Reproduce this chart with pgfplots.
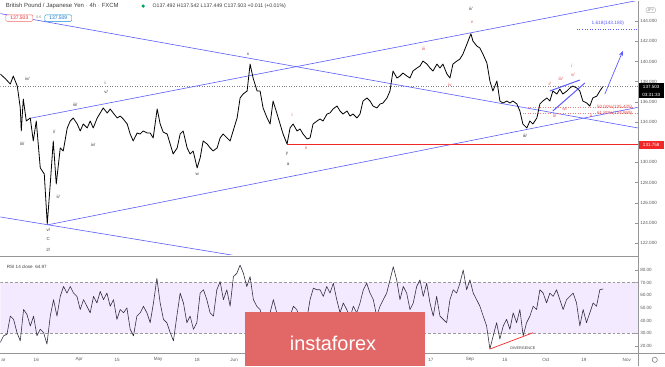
\documentclass[border=0pt]{standalone}
\usepackage{fontspec}
\setmainfont{Liberation Sans}
\usepackage{pgfplots}
\pgfplotsset{compat=1.18}
\usetikzlibrary{arrows.meta}
\definecolor{tvblue}{RGB}{90,90,255}
\definecolor{tvred}{RGB}{240,40,40}
\definecolor{lblred}{RGB}{225,75,75}
\definecolor{lbldark}{RGB}{60,60,60}
\definecolor{rsiband}{RGB}{244,234,255}
\definecolor{rsiline}{RGB}{55,45,65}
\definecolor{logored}{RGB}{226,104,104}
\definecolor{axgray}{RGB}{90,90,90}
\definecolor{sepgray}{RGB}{150,150,150}
\pgfplotstableread{
x p
0 138.75
5 138.30
10 137.76
13 138.55
17 137.56
20 135.39
21 133.11
23 136.28
26 134.10
30 134.40
33 132.12
36 134.10
40 129.45
44 128.85
47 123.90
50 127.86
53 132.12
56 127.86
60 131.43
63 131.13
67 133.41
70 134.10
73 134.40
77 133.80
80 133.11
83 133.80
87 133.41
90 134.10
93 133.41
97 134.40
100 134.89
103 135.39
107 134.89
110 135.29
113 134.89
117 134.40
120 134.59
123 134.30
127 133.80
130 132.81
133 132.12
137 132.91
140 132.81
143 133.11
147 132.91
150 132.91
153 132.42
157 135.29
160 133.80
163 133.00
167 132.81
170 131.82
173 130.83
177 131.43
180 132.81
183 133.11
187 131.43
190 130.83
193 131.13
197 129.45
200 130.44
203 132.12
207 131.82
210 131.43
213 131.13
217 131.43
220 132.42
223 132.81
227 132.42
230 132.12
233 133.11
237 134.40
240 136.38
243 136.77
247 137.07
250 139.74
253 138.36
257 137.07
260 137.07
263 135.39
267 134.40
270 133.80
273 136.08
277 134.79
280 133.80
283 132.81
287 131.82
290 133.41
293 133.80
297 133.11
300 133.31
303 132.81
307 132.32
310 132.42
313 133.80
317 134.10
320 134.30
323 134.10
327 134.79
330 134.90
333 135.29
337 135.58
340 135.09
343 134.79
347 135.09
350 134.59
353 134.79
357 134.40
360 134.79
363 136.08
367 136.38
370 136.08
373 135.58
377 135.39
380 135.78
383 135.88
387 136.38
390 137.07
393 139.05
397 138.36
400 138.55
403 138.85
407 138.55
410 138.36
413 139.05
417 139.35
420 139.54
423 140.04
427 139.74
430 139.35
433 139.05
437 139.74
440 139.35
443 139.74
447 138.75
450 138.36
453 139.74
457 140.04
460 140.24
463 140.73
467 141.72
471 142.75
473 142.02
477 141.52
480 141.33
483 140.73
487 139.84
490 138.06
493 137.07
497 138.06
500 136.08
503 135.88
507 136.08
510 135.88
513 136.08
517 135.78
520 135.09
523 133.80
527 133.41
530 134.10
533 133.80
537 134.40
540 135.78
543 136.08
547 136.38
550 136.08
553 137.07
557 136.77
560 137.27
563 136.77
567 137.07
570 137.37
573 137.56
577 137.37
580 137.07
583 136.08
587 135.88
590 135.58
593 136.38
597 136.57
600 137.07
603 137.50
}\pricedata
\pgfplotstableread{
x r
0 22.7
3.3 27.9
6.7 29.2
10 43.5
13.3 40.9
16.7 30.5
20 24.0
23.3 48.7
26.7 44.8
30 35.7
33.3 43.5
36.7 27.9
40 33.1
43.3 30.5
46.7 21.4
50 43.5
53.3 56.5
56.7 43.5
60 59.1
63.3 66.9
66.7 61.7
70 66.9
73.3 61.7
76.7 59.1
80 48.7
83.3 56.5
86.7 51.3
90 46.1
93.3 59.1
96.7 53.9
100 63.0
103.3 56.5
106.7 61.7
110 51.3
113.3 56.5
116.7 40.9
120 48.7
123.3 46.1
126.7 50.0
130 33.1
133.3 27.9
136.7 43.5
140 46.1
143.3 51.3
146.7 46.1
150 38.3
153.3 53.9
156.7 73.4
160 53.9
163.3 40.9
166.7 38.3
170 30.5
173.3 24.0
176.7 43.5
180 61.7
183.3 53.9
186.7 38.3
190 43.5
193.3 33.1
196.7 38.3
200 61.7
203.3 64.3
206.7 56.5
210 46.1
213.3 43.5
216.7 64.3
220 70.8
223.3 56.5
226.7 64.3
230 51.3
233.3 74.7
236.7 77.3
240 83.8
243.3 77.3
246.7 66.9
250 74.7
253.3 56.5
256.7 51.3
260 48.7
263.3 38.3
266.7 27.9
270 46.1
273.3 56.5
276.7 46.1
280 38.3
283.3 29.2
286.7 30.5
290 43.5
293.3 51.3
296.7 48.7
300 40.9
303.3 33.1
306.7 40.9
310 56.5
313.3 65.6
316.7 64.3
320 64.3
323.3 59.1
326.7 66.9
330 61.7
333.3 69.5
336.7 56.5
340 46.1
343.3 53.9
346.7 48.7
350 42.2
353.3 51.3
356.7 46.1
360 53.9
363.3 64.3
366.7 69.5
370 61.7
373.3 56.5
376.7 43.5
380 51.3
383.3 56.5
386.7 61.7
390 72.1
393.3 82.5
396.7 72.1
400 56.5
403.3 66.9
406.7 61.7
410 48.7
413.3 53.9
416.7 66.9
420 72.1
423.3 59.1
426.7 69.5
430 53.9
433.3 43.5
436.7 59.1
440 43.5
443.3 40.9
446.7 38.3
450 56.5
453.3 64.3
456.7 61.7
460 69.5
463.3 79.9
466.7 64.3
470 72.1
473.3 61.7
476.7 56.5
480 51.3
483.3 43.5
486.7 35.7
490 17.5
493.3 27.9
496.7 38.3
500 25.3
503.3 35.7
506.7 40.9
510 33.1
513.3 46.1
516.7 38.3
520 48.7
523.3 27.9
526.7 38.3
530 43.5
533.3 51.3
536.7 48.7
540 64.3
543.3 61.7
546.7 53.9
550 61.7
553.3 59.1
556.7 64.3
560 56.5
563.3 48.7
566.7 56.5
570 59.1
573.3 61.7
576.7 53.9
580 35.7
583.3 48.7
586.7 38.3
590 46.1
593.3 53.9
596.7 51.3
600 64.3
603.3 64.97
}\rsidata
\newcommand{\tinyf}{\fontsize{4.6}{5}\selectfont}
\newcommand{\wl}{\fontsize{4.5}{5}\selectfont}
\begin{document}
\begin{tikzpicture}
\begin{scope}[x=1bp,y=1bp]
\useasboundingbox (0,0) rectangle (665,365);
\end{scope}
% ---------------- price panel
\begin{axis}[at={(0bp,111bp)}, anchor=south west, width=638bp, height=254bp,
  scale only axis, xmin=0, xmax=638, ymin=120.83, ymax=145.98,
  axis line style={draw=none}, xtick=\empty,
  ytick={122,124,126,128,130,134,136,138,140,142,144}, yticklabel pos=right,
  /pgf/number format/assume math mode=true,
  yticklabel={\pgfmathprintnumber[fixed,fixed zerofill,precision=3]{\tick}},
  yticklabel style={font=\tinyf, text=axgray, xshift=-1bp},
  major tick length=2.5bp, tick style={sepgray, line width=0.4pt},
  ytick pos=right]
\addplot[gray, dotted, line width=0.5pt] coordinates {(0,137.503) (638,137.503)};
\addplot[tvblue, line width=0.6pt] coordinates {(30,134.37) (638,146.05)};
\addplot[tvblue, line width=0.6pt] coordinates {(47,123.80) (638,135.45)};
\addplot[tvblue, line width=0.6pt] coordinates {(0,144.74) (638,133.41)};
\addplot[tvblue, line width=0.6pt] coordinates {(0,124.59) (260,120.35)};
\addplot[tvred, line width=0.6pt] coordinates {(287,131.758) (638,131.758)};
\addplot[lblred!70, dotted, line width=0.5pt] coordinates {(523,135.475) (638,135.475)};
\addplot[lblred!70, dotted, line width=0.5pt] coordinates {(523,134.869) (638,134.869)};
\addplot[tvblue, dotted, line width=0.6pt] coordinates {(577,143.18) (638,143.18)};
\addplot[black, line width=0.8pt, line join=round] table[x=x,y=p] {\pricedata};
\addplot[tvblue, line width=1pt] coordinates {(550,137.07) (580,138.16)};
\addplot[tvblue, line width=1pt] coordinates {(553,135.09) (585,137.86)};
\addplot[tvblue, line width=0.7pt, -{Stealth[length=5bp,width=4bp]}] coordinates {(605,136.77) (623,141.03)};
\end{axis}
% ---------------- RSI panel
\begin{axis}[at={(0bp,13bp)}, anchor=south west, width=638bp, height=95bp,
  scale only axis, xmin=0, xmax=638, ymin=14.5, ymax=89.5,
  axis line style={draw=none}, xtick=\empty,
  ytick={20,30,...,80}, yticklabel pos=right, ytick pos=right,
  /pgf/number format/assume math mode=true,
  yticklabel={\pgfmathprintnumber[fixed,fixed zerofill,precision=2]{\tick}},
  yticklabel style={font=\tinyf, text=axgray, xshift=-1bp},
  major tick length=2.5bp, tick style={sepgray, line width=0.4pt}]
\addplot[fill=rsiband, draw=none] coordinates {(0,30) (638,30) (638,70) (0,70) (0,30)};
\addplot[gray!80, densely dashed, line width=0.4pt] coordinates {(0,70) (638,70)};
\addplot[gray!80, densely dashed, line width=0.4pt] coordinates {(0,30) (638,30)};
\addplot[rsiline, line width=0.6pt, line join=round] table[x=x,y=r] {\rsidata};
\addplot[tvred, line width=0.7pt] coordinates {(490,17.5) (533,30.3)};
\node[font=\fontsize{3.8}{4}\selectfont, text=lbldark] at (axis cs:523,18.5) {DIVERGENCE};
\end{axis}
\begin{scope}[x=1bp,y=1bp]
% ---------------- date labels
\foreach \d/\x in {ar/3,16/36,Apr/79,15/117,May/158,18/197,Jun/234,15/270,Jul/313,16/352,Aug/395,17/431,Sep/470,15/505,Oct/546,19/584,Nov/627}
  \node[font=\tinyf, text=axgray, inner sep=0pt] at (\x,6) {\d};
% ---------------- frame lines
\draw[sepgray, line width=0.6pt] (0,109.5) -- (638,109.5);
\draw[sepgray, line width=0.5pt] (638,0) -- (638,365);
\draw[sepgray, line width=0.5pt] (0,13) -- (665,13);
% ---------------- header
\node[anchor=west, font=\fontsize{6}{7}\selectfont, text=lbldark] at (2,360) {British Pound / Japanese Yen $\cdot$ 4h $\cdot$ FXCM};
\fill[teal!70!green] (143,360) circle (1.8);
\node[anchor=west, font=\fontsize{5.2}{6}\selectfont, text=lbldark] at (149,360) {O137.492 H137.542 L137.449 C137.503 +0.011 (+0.01\%)};
\node[draw=tvred!70, rounded corners=1.2bp, fill=white, text=tvred, font=\fontsize{5}{6}\selectfont, inner sep=1.5bp, minimum width=27bp] at (19,348) {137.503};
\node[font=\fontsize{3.6}{4}\selectfont, text=gray] at (38.5,348.5) {0.6};
\node[draw=cyan!70!blue, rounded corners=1.2bp, fill=white, text=cyan!50!blue, font=\fontsize{5}{6}\selectfont, inner sep=1.5bp, minimum width=27bp] at (58,348) {137.509};
\node[draw=gray!60, rounded corners=1.2bp, text=gray, font=\fontsize{3.8}{4}\selectfont, inner sep=1.2bp] at (651,356) {JPY};
% ---------------- right-axis price labels
\node[fill=black, text=white, font=\tinyf, minimum width=25bp, minimum height=7.5bp, inner sep=0pt] at (651.5,279) {137.503};
\node[fill=black, text=white, font=\tinyf, minimum width=25bp, minimum height=7.5bp, inner sep=0pt] at (651.5,271.3) {03:31:33};
\node[fill=tvred, text=white, font=\tinyf, minimum width=25bp, minimum height=7.5bp, inner sep=0pt] at (651.5,221) {131.758};
% ---------------- annotations
\node[font=\fontsize{4.8}{5}\selectfont, text=tvblue] at (608,343) {1.618(143.180)};
\node[anchor=east, font=\fontsize{4.6}{5}\selectfont, text=lblred] at (636,259) {50.00\%(135.475)};
\node[anchor=east, font=\fontsize{4.6}{5}\selectfont, text=lblred] at (636,253) {61.80\%(134.869)};
\node[anchor=west, font=\fontsize{4.6}{5}\selectfont, text=lbldark] at (3,99) {RSI 14 close \ 64.97};
% wave labels (dark)
\foreach \t/\x/\y in {{iv/}/27/78, {iii/}/22/143, {i/}/54/131, {ii/}/58/196, {v/}/48/229, C/48/238, {2/}/48/249, {iii/}/75/104, {iv/}/93/144, i/105/82, {v/}/106/91, w/197/173, x/248/53, y/287/153, a/288/163, {ii/}/471/8, {iii/}/525/135}
  \node[font=\wl, text=lbldark] at (\x,365-\y) {\t};
% wave labels (red)
\foreach \t/\x/\y in {i/292/114, ii/306/147, iii/424/48, iv/450/84, v/472/21, {i/}/550/83, {iii/}/561/78, {v/}/573/74, i/572/65, {ii/}/555/115, {iv/}/565/108, ii/591/115}
  \node[font=\wl, text=lblred] at (\x,365-\y) {\t};
% gear icon
\draw[gray, line width=0.6pt] (655,6) circle (2.6);
% ---------------- watermark logo
\fill[logored] (245,0) rectangle (425,54);
\node[text=white, font=\fontsize{20}{22}\selectfont] at (333,22) {instaforex};
\end{scope}
\end{tikzpicture}
\end{document}
